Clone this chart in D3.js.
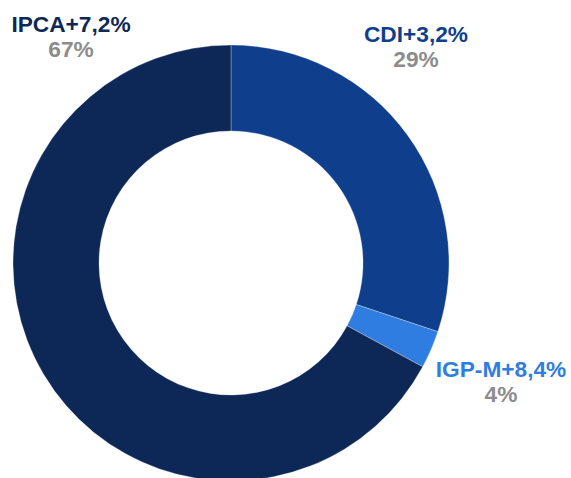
<!DOCTYPE html>
<html><head><meta charset="utf-8">
<script src="https://cdn.jsdelivr.net/npm/d3@7"></script>
<style>html,body{margin:0;padding:0;background:#fff;overflow:hidden}</style>
</head><body>
<script>
const categories = ["CDI+3,2%", "IGP-M+8,4%", "IPCA+7,2%"];
const sliceValues = [30.1, 2.8, 67.1];
const pctLabels = ["29%", "4%", "67%"];
const colors = ["#0f3f8c", "#2f7de1", "#0d2856"];
const labelPos = [[416, 42, 67], [501, 377, 402], [71, 32, 57]];

const W = 571, H = 478;
const svg = d3.select("body").append("svg").attr("width", W).attr("height", H);
const cx = 231, cy = 263, R = 218, r = 132;

const pie = d3.pie().sort(null).value(d => d.v);
const data = categories.map((c, i) => ({c, v: sliceValues[i], i}));
const arc = d3.arc().innerRadius(r).outerRadius(R);
svg.append("g").attr("transform", `translate(${cx},${cy})`)
  .selectAll("path").data(pie(data)).join("path")
  .attr("d", arc)
  .attr("fill", d => colors[d.data.i])
  .attr("stroke", "#ffffff").attr("stroke-width", 0.3);

const lg = svg.append("g").attr("font-family", "Liberation Sans, Arial, sans-serif")
  .attr("font-weight", "bold").attr("font-size", 22.7).attr("text-anchor", "middle");
data.forEach((d, i) => {
  const [x, y1, y2] = labelPos[i];
  lg.append("text").attr("x", x).attr("y", y1).attr("fill", colors[i]).text(d.c);
  lg.append("text").attr("x", x).attr("y", y2).attr("fill", "#8c8c8c").text(pctLabels[i]);
});
</script>
</body></html>
